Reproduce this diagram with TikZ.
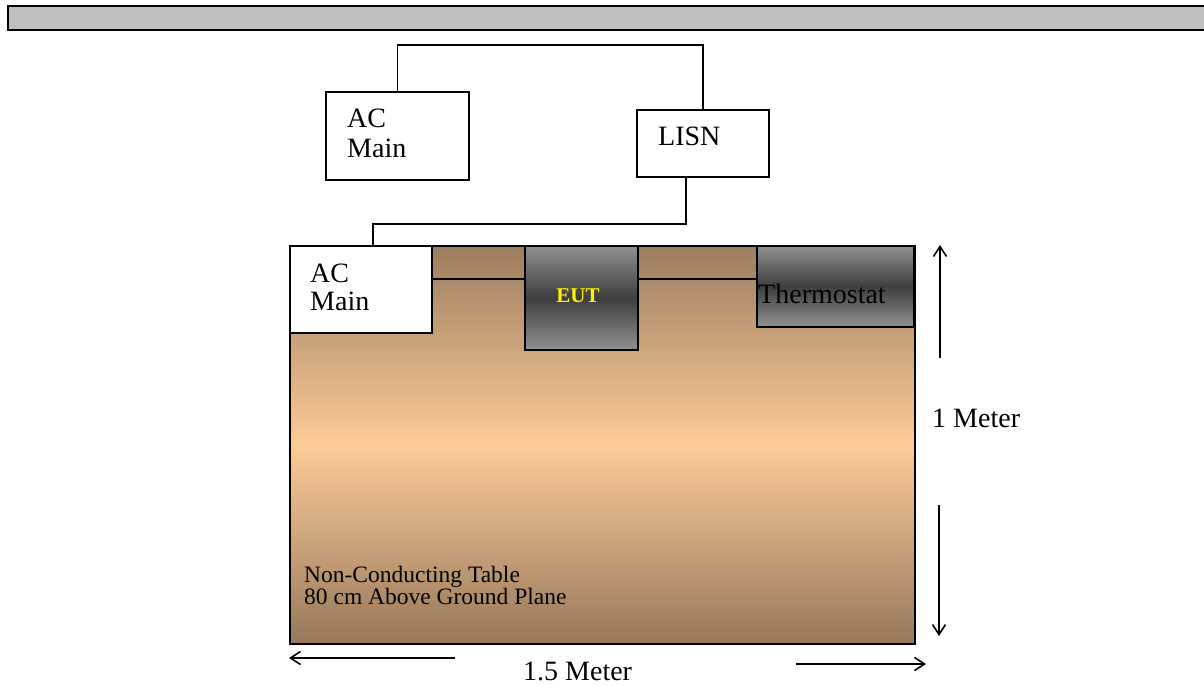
\documentclass[tikz,border=0pt]{standalone}
\usepackage{fontspec}
\setmainfont{Liberation Serif}
\usetikzlibrary{arrows.meta}
\definecolor{barg}{RGB}{192,192,192}
\definecolor{tabdark}{RGB}{156,125,95}
\definecolor{tablight}{RGB}{253,203,153}
\definecolor{tabbot}{RGB}{150,120,90}
\definecolor{glight}{RGB}{145,145,145}
\definecolor{gdark}{RGB}{62,62,62}
\begin{document}
\begin{tikzpicture}[x=1pt,y=-1pt,
  box/.style={draw=black,line width=1.5pt,inner sep=0pt,minimum width=#1},
  wbox/.style={box=#1,fill=white},
  gbox/.style={box=#1,top color=glight,bottom color=glight,middle color=gdark},
  wire/.style={draw=black,line width=1.5pt},
  dim/.style={draw=black,line width=1.2pt,-{Straight Barb[length=10pt,width=13pt,line width=1.6pt]}},
  big/.style={font=\fontsize{28}{29}\selectfont,inner sep=0pt,anchor=base west},
  mid/.style={font=\fontsize{23.5}{22}\selectfont,inner sep=0pt,anchor=base west}]
\useasboundingbox (0,0) rectangle (1204,685);
% top bar
\draw[line width=1.5pt,fill=barg] (8,6) rectangle (1212,30);
% table
\node[box=625pt,minimum height=398pt,top color=tabdark,bottom color=tabbot,middle color=tablight] (table) at (602.5,445) {};
% boxes
\node[wbox=143pt,minimum height=88pt] (acm1) at (397.5,136) {};
\node[wbox=132pt,minimum height=67pt] (lisn) at (703,143.5) {};
\node[wbox=142pt,minimum height=87pt] (acm2) at (361,289.5) {};
\node[gbox=113pt,minimum height=104pt] (eut) at (581.5,298) {};
\node[gbox=157pt,minimum height=81pt] (thermo) at (835.5,286.5) {};
% texts
\node[big] (t1) at (347,127) {AC};
\node[big] (t2) at (347,157) {Main};
\node[big] (t3) at (658,145) {LISN};
\node[big] (t4) at (310,282) {AC};
\node[big] (t5) at (310,310) {Main};
\node[font=\fontsize{21}{21}\selectfont\bfseries,text=yellow,inner sep=0pt,anchor=base] (t6) at (578,302) {EUT};
\node[big] (t7) at (758,303) {Thermostat};
\node[mid] (t8) at (304,582) {Non-Conducting Table};
\node[mid] (t9) at (304,604) {80 cm Above Ground Plane};
\node[big] (t10) at (932,427) {1 Meter};
\node[big] (t11) at (523,680) {1.5 Meter};
% wires
\coordinate (wtop) at (0,45);
\coordinate (wlow) at (0,224);
\draw[wire] (acm1.north) -- (acm1.north |- wtop) -| (lisn.north);
\coordinate (ls) at ([xshift=-17pt]lisn.south);
\coordinate (ae) at ([xshift=12pt]acm2.north);
\draw[wire] (ls) -- (ls |- wlow) -| (ae);
\draw[wire] (acm2.east |- 0,279) -- (eut.west |- 0,279);
\draw[wire] (eut.east |- 0,279) -- (thermo.west |- 0,279);
% dimension arrows
\coordinate (va) at (940,358);
\coordinate (vb) at (940,245);
\coordinate (vc) at (939,505);
\coordinate (vd) at (939,636);
\coordinate (ha) at (455,658);
\coordinate (hb) at (289,658);
\coordinate (hc) at (796,664);
\coordinate (hd) at (926,664);
\draw[dim] (va) -- (vb);
\draw[dim] (vc) -- (vd);
\draw[dim] (ha) -- (hb);
\draw[dim] (hc) -- (hd);
\end{tikzpicture}
\end{document}
